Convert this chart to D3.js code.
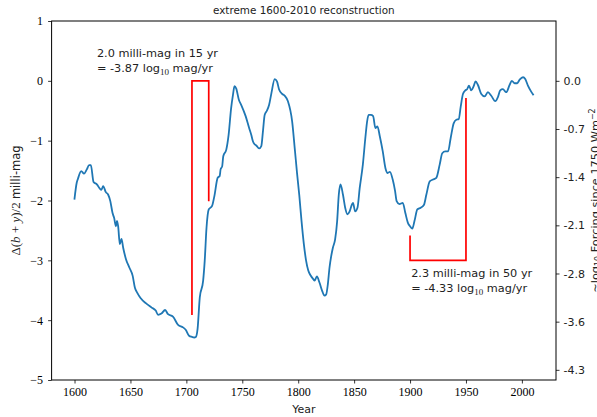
<!DOCTYPE html>
<html>
<head>
<meta charset="utf-8">
<script src="https://cdn.jsdelivr.net/npm/d3@7"></script>
<style>
  html, body { margin: 0; padding: 0; background: #fff; }
  svg { display: block; }
</style>
</head>
<body>
<svg id="chart" width="597" height="417"></svg>
<script>
// ---------------- data ----------------
const years = [1600,1602,1603,1606,1608.5,1611,1613,1614.6,1617,1620,1622.6,1624,1625.6,1628,1630,1632,1634,1635.4,1637,1638,1639,1640.5,1642,1643.5,1646,1649,1652,1654,1656,1659,1664,1669,1672.6,1674.7,1677.7,1681,1683.6,1688,1692.6,1697,1699.4,1702.4,1705,1707,1708.5,1710,1712,1715,1716.4,1718,1720,1723,1725,1728,1729.8,1730.6,1732,1733,1735.7,1737.8,1740,1741.7,1743,1744.6,1747,1749,1753,1756,1758,1759.5,1761,1762.5,1765,1767,1768.5,1770,1772,1774,1776,1779,1781,1783,1785.7,1788,1790.8,1794.6,1797,1799,1801,1803,1805,1807,1809,1811,1813.7,1814.6,1816.7,1819,1821.4,1823.5,1825,1826.5,1828,1829.5,1831,1833,1834.8,1836.3,1837.8,1840,1842,1844,1846,1848,1849,1850.9,1853,1855,1857.8,1860,1861.6,1863,1865,1867,1869,1870.8,1873,1875.6,1878,1880,1882,1884.5,1886.6,1888,1890.5,1893.5,1895.8,1898,1900,1902,1904,1906.5,1909.5,1912.5,1914.6,1917.6,1920.5,1923.5,1926.5,1928.8,1931.5,1934,1936.3,1939,1941.4,1943.5,1945.3,1947.3,1949.4,1951,1952.7,1954.7,1956.9,1958.6,1960.7,1963.7,1966.7,1969.6,1972.6,1976.2,1978.6,1980.6,1983,1986,1989,1991,1993.5,1995.8,1998,2001,2003,2005.4,2008.3,2010];
const values = [-1.97,-1.70,-1.64,-1.51,-1.55,-1.48,-1.41,-1.41,-1.69,-1.73,-1.80,-1.82,-1.76,-1.86,-1.90,-2.01,-2.21,-2.29,-2.43,-2.34,-2.43,-2.73,-2.64,-2.79,-2.98,-3.12,-3.26,-3.46,-3.54,-3.63,-3.72,-3.79,-3.84,-3.91,-3.89,-3.83,-3.90,-3.94,-4.08,-4.12,-4.16,-4.26,-4.28,-4.29,-4.28,-4.15,-3.62,-3.34,-3.01,-2.46,-2.15,-2.09,-1.93,-1.62,-1.59,-1.48,-1.43,-1.26,-1.15,-0.90,-0.46,-0.23,-0.09,-0.13,-0.32,-0.40,-0.59,-0.78,-0.90,-1.01,-1.06,-1.08,-1.13,-1.09,-0.84,-0.57,-0.50,-0.40,-0.21,0.03,-0.01,-0.15,-0.22,-0.25,-0.34,-0.68,-1.15,-1.55,-1.92,-2.35,-2.72,-3.00,-3.17,-3.25,-3.32,-3.34,-3.27,-3.37,-3.51,-3.59,-3.57,-3.40,-3.12,-2.93,-2.79,-2.65,-2.35,-1.90,-1.73,-1.90,-2.12,-2.23,-2.18,-2.07,-2.04,-2.18,-2.12,-1.79,-1.40,-0.96,-0.68,-0.57,-0.57,-0.59,-0.79,-0.76,-0.93,-1.18,-1.46,-1.54,-1.52,-1.65,-1.84,-2.01,-2.06,-2.04,-2.21,-2.37,-2.43,-2.47,-2.34,-2.15,-2.12,-2.07,-1.90,-1.68,-1.65,-1.62,-1.40,-1.21,-1.18,-1.18,-0.96,-0.71,-0.65,-0.64,-0.43,-0.22,-0.16,-0.14,-0.08,-0.16,-0.09,-0.01,-0.07,-0.22,-0.26,-0.19,-0.25,-0.34,-0.27,-0.16,-0.14,-0.19,-0.07,0.00,-0.04,-0.04,0.02,0.06,0.03,-0.08,-0.18,-0.23];

const xTickValues = [1600,1650,1700,1750,1800,1850,1900,1950,2000];
const xTickLabels = ["1600","1650","1700","1750","1800","1850","1900","1950","2000"];
const yTickValues = [-5,-4,-3,-2,-1,0,1];
const yTickLabels = ["\u22125","\u22124","\u22123","\u22122","\u22121","0","1"];
// right axis: tick positions in milli-mag units and their labels
const rightTickPositions = [0,-0.805,-1.61,-2.415,-3.22,-4.025,-4.83];
const rightTickLabels = ["0.0","-0.7","-1.4","-2.1","-2.8","-3.6","-4.3"];

const bracket1Years = [1705,1705,1720,1720];
const bracket1Values = [-3.9,0,0,-2.0];
const bracket2Years = [1900,1900,1950,1950];
const bracket2Values = [-2.6,-3.0,-3.0,-0.3];

const note1Anchor = [1620, 0.14];
const note1Lines = ["2.0 milli-mag in 15 yr", ["= -3.87 log", "10", " mag/yr"]];
const note2Anchor = [1901, -3.53];
const note2Lines = ["2.3 milli-mag in 50 yr", ["= -4.33 log", "10", " mag/yr"]];

const titleText = "extreme 1600-2010 reconstruction";
const xLabelText = "Year";

// ---------------- layout ----------------
const W = 597, H = 417;
const L = 51.6, R = 556, T = 21, B = 380;
const SANS = "DejaVu Sans";
const SERIF = "Liberation Serif";

const svg = d3.select("#chart");

const x = d3.scaleLinear().domain([1579.5, 2030.5]).range([L, R]);
const y = d3.scaleLinear().domain([-5, 1]).range([B, T]);

// line
const pts = years.map((yr, i) => [yr, values[i]]);
const line = d3.line().x(d => x(d[0])).y(d => y(d[1])).curve(d3.curveMonotoneX);

svg.append("path")
  .datum(pts)
  .attr("d", line)
  .attr("fill", "none")
  .attr("stroke", "#1f77b4")
  .attr("stroke-width", 1.8)
  .attr("stroke-linejoin", "round")
  .attr("stroke-linecap", "square");

// brackets
const lineRaw = d3.line().x(d => x(d[0])).y(d => y(d[1]));
[[bracket1Years, bracket1Values], [bracket2Years, bracket2Values]].forEach(([bx, bv]) => {
  svg.append("path")
    .datum(bx.map((v, i) => [v, bv[i]]))
    .attr("d", lineRaw)
    .attr("fill", "none")
    .attr("stroke", "#ff0000")
    .attr("stroke-width", 1.7)
    .attr("stroke-linecap", "square");
});

// notes
function drawNote(anchor, lines) {
  const px = x(anchor[0]), py = y(anchor[1]);
  const g = svg.append("g").attr("font-family", SANS).attr("font-size", 11.3).attr("fill", "#222");
  g.append("text").attr("x", px).attr("y", py - 15.4).text(lines[0]);
  const t = g.append("text").attr("x", px).attr("y", py);
  t.append("tspan").text(lines[1][0]);
  t.append("tspan").attr("font-family", SERIF).attr("font-size", 9).attr("dy", 2.5).text(lines[1][1]);
  t.append("tspan").attr("dy", -2.5).text(lines[1][2]);
}
drawNote(note1Anchor, note1Lines);
drawNote(note2Anchor, note2Lines);

// axes
const xAxis = d3.axisBottom(x).tickValues(xTickValues)
  .tickFormat((d, i) => xTickLabels[i]).tickSize(3.5).tickPadding(3.5);
const gx = svg.append("g").attr("transform", `translate(0,${B})`).call(xAxis);
gx.select(".domain").remove();
gx.selectAll("text").attr("font-family", SERIF).attr("font-size", 12).attr("fill", "#000");
gx.selectAll("line").attr("stroke-width", 0.8);

const yAxis = d3.axisLeft(y).tickValues(yTickValues)
  .tickFormat((d, i) => yTickLabels[i]).tickSize(3.5).tickPadding(5);
const gy = svg.append("g").attr("transform", `translate(${L},0)`).call(yAxis);
gy.select(".domain").remove();
gy.selectAll("text").attr("font-family", SERIF).attr("font-size", 12).attr("fill", "#000");
gy.selectAll("line").attr("stroke-width", 0.8);

const yAxisR = d3.axisRight(y).tickValues(rightTickPositions)
  .tickFormat((d, i) => rightTickLabels[i]).tickSize(3.5).tickPadding(4);
const gr = svg.append("g").attr("transform", `translate(${R},0)`).call(yAxisR);
gr.select(".domain").remove();
gr.selectAll("text").attr("font-family", SANS).attr("font-size", 11).attr("fill", "#222");
gr.selectAll("line").attr("stroke-width", 0.8);

// frame
svg.append("rect").attr("x", L).attr("y", T).attr("width", R - L).attr("height", B - T)
  .attr("fill", "none").attr("stroke", "#000").attr("stroke-width", 1);

// title
svg.append("text").attr("x", (L + R) / 2).attr("y", 13.5).attr("text-anchor", "middle")
  .attr("font-family", SANS).attr("font-size", 10.4).attr("fill", "#222").text(titleText);

// x label
svg.append("text").attr("x", (L + R) / 2).attr("y", 413).attr("text-anchor", "middle")
  .attr("font-family", SANS).attr("font-size", 11).attr("fill", "#222").text(xLabelText);

// left y label
const yl = svg.append("text")
  .attr("transform", `translate(20,${(T + B) / 2}) rotate(-90)`)
  .attr("text-anchor", "middle").attr("font-size", 13).attr("fill", "#222");
yl.append("tspan").attr("font-family", SERIF).text("\u0394(");
yl.append("tspan").attr("font-family", SERIF).attr("font-style", "italic").text("b");
yl.append("tspan").attr("font-family", SERIF).text(" + ");
yl.append("tspan").attr("font-family", SERIF).attr("font-style", "italic").text("y");
yl.append("tspan").attr("font-family", SERIF).text(")/2 ");
yl.append("tspan").attr("font-family", SANS).attr("font-size", 11.5).text("milli-mag");

// right y label (cut at the right edge, as in the reference)
const yr = svg.append("text")
  .attr("transform", `translate(598.5,${(T + B) / 2}) rotate(-90)`)
  .attr("text-anchor", "middle").attr("font-family", SANS).attr("font-size", 11.3).attr("fill", "#222");
yr.append("tspan").text("\u223Clog");
yr.append("tspan").attr("font-size", 8).attr("dy", 2.5).text("10");
yr.append("tspan").attr("dy", -2.5).text(" Forcing since 1750 Wm");
yr.append("tspan").attr("font-size", 8).attr("dy", -4).text("\u22122");
</script>
</body>
</html>
